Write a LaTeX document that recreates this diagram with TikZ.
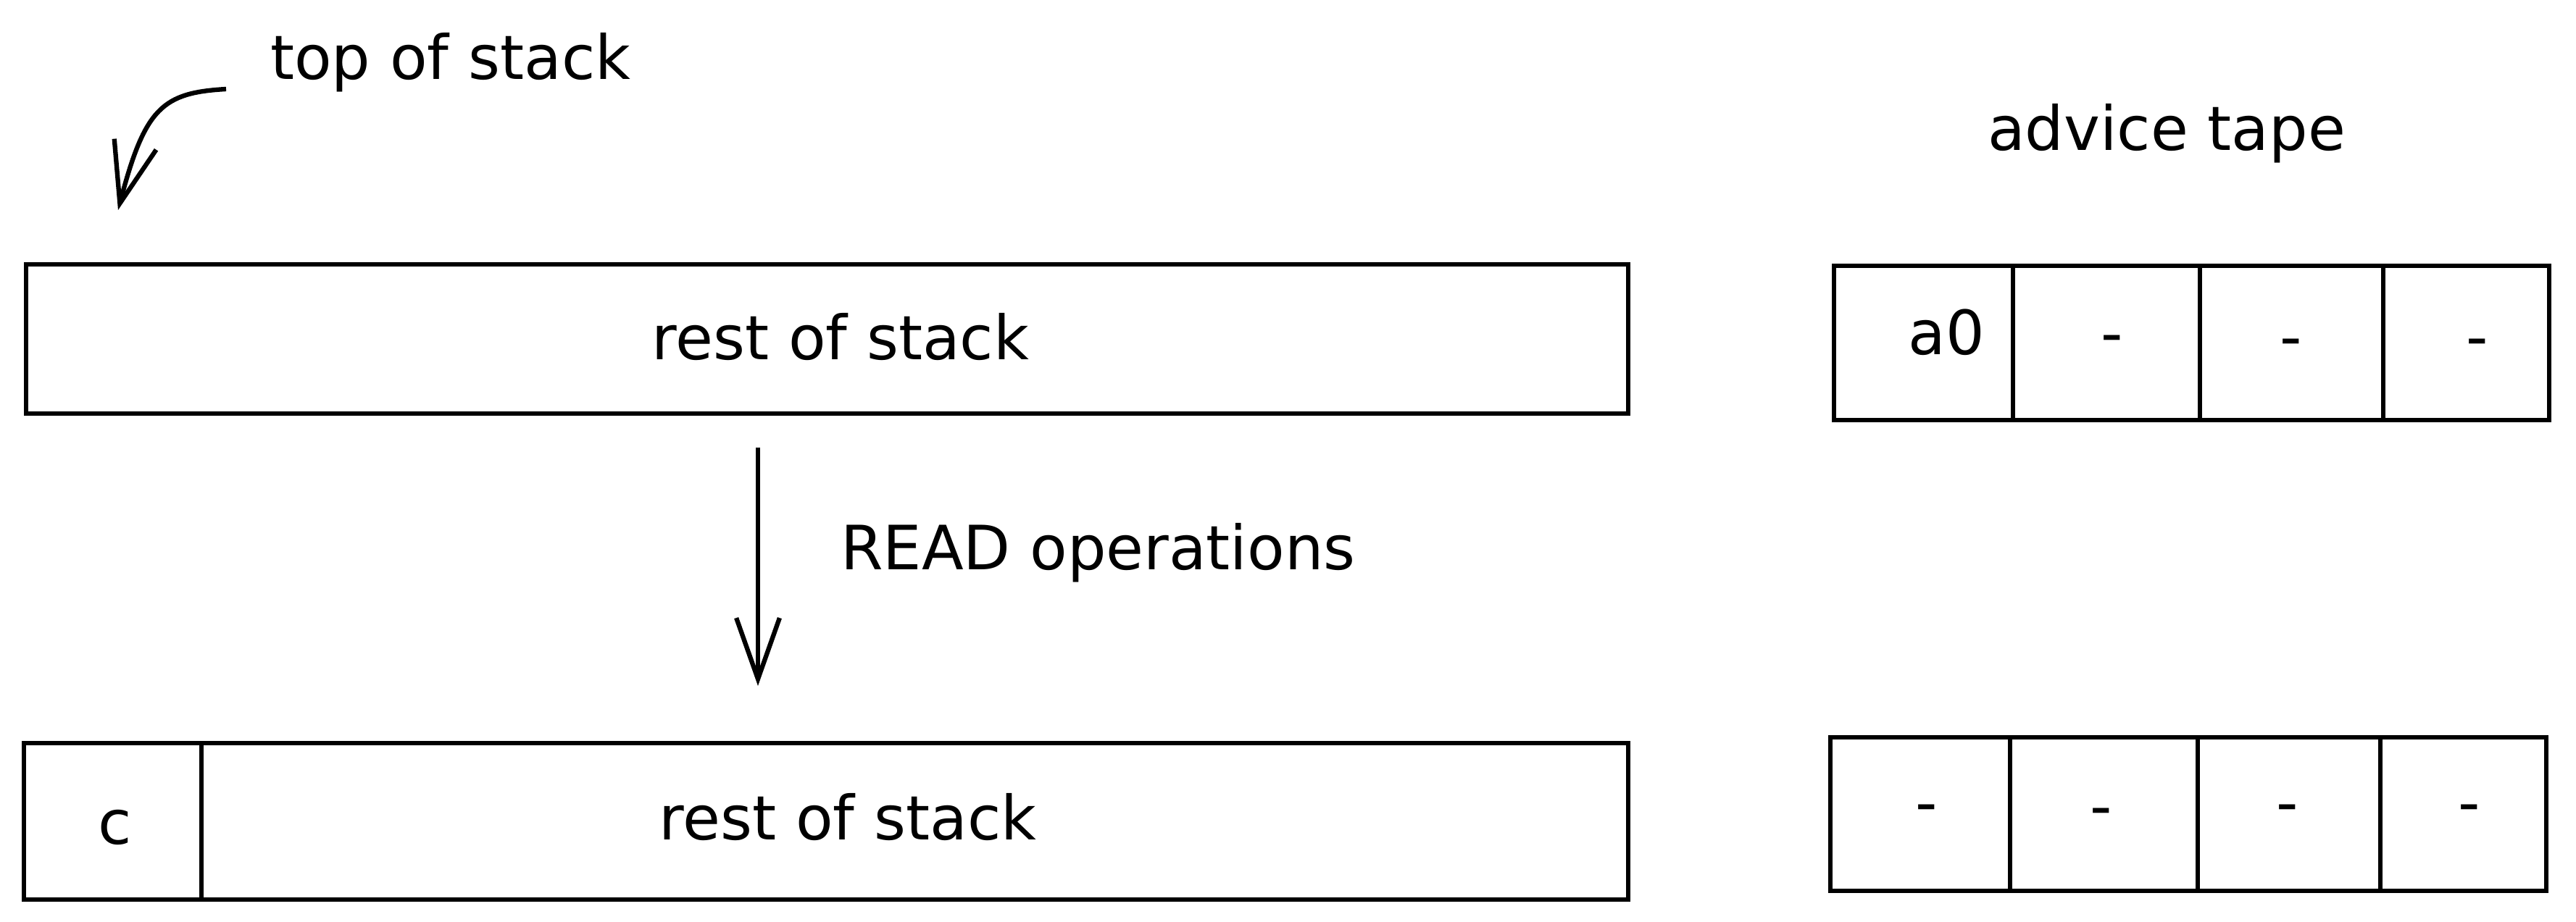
\documentclass[tikz,border=0pt]{standalone}
\usepackage{fontspec}
\newfontfamily\hand{DejaVu Sans}
\usetikzlibrary{arrows.meta}

\begin{document}
\begin{tikzpicture}
[line width=1.8pt,every node/.style={font=\hand\fontsize{24}{28}\selectfont},
box/.style={draw,inner sep=0pt},
txt/.style={anchor=base,inner sep=0pt},
barb/.style={-{Straight Barb[length=24pt,width=17pt]}}]
\useasboundingbox (0,0) rectangle (35.55,12.73);
% labels
\node (tos) [txt,anchor=base west] at (3.70,11.63) {top of stack};
\node (adv) [txt] at (29.90,10.65) {advice tape};
\node (rdop) [txt,anchor=base west] at (11.57,4.86) {READ operations};
% stack before
\node[box,minimum width=22.11cm,minimum height=2.06cm] (stk) at (11.415,8.05) {};
\node (stkt) [txt] at (11.60,7.76) {rest of stack};
% stack after
\node[box,minimum width=2.45cm,minimum height=2.16cm] (stc) at (1.555,1.39) {};
\node[box,minimum width=19.69cm,minimum height=2.16cm] (str) at (12.625,1.39) {};
\node (stct) [txt] at (1.59,1.07) {c};
\node (strt) [txt] at (11.70,1.13) {rest of stack};
% advice tape before
\node[box,minimum width=2.47cm,minimum height=2.13cm] (ta1) at (26.545,7.995) {};
\node[box,minimum width=2.58cm,minimum height=2.13cm] (ta2) at (29.07,7.995) {};
\node[box,minimum width=2.53cm,minimum height=2.13cm] (ta3) at (31.625,7.995) {};
\node[box,minimum width=2.29cm,minimum height=2.13cm] (ta4) at (34.035,7.995) {};
\node (ta1t) [txt] at (26.86,7.83) {a0};
\node (ta2t) [txt] at (29.15,7.83) {-};
\node (ta3t) [txt] at (31.62,7.78) {-};
\node (ta4t) [txt] at (34.19,7.78) {-};
% advice tape after
\node[box,minimum width=2.48cm,minimum height=2.12cm] (tb1) at (26.50,1.49) {};
\node[box,minimum width=2.59cm,minimum height=2.12cm] (tb2) at (29.035,1.49) {};
\node[box,minimum width=2.52cm,minimum height=2.12cm] (tb3) at (31.59,1.49) {};
\node[box,minimum width=2.29cm,minimum height=2.12cm] (tb4) at (33.995,1.49) {};
\node (tb1t) [txt] at (26.59,1.35) {-};
\node (tb2t) [txt] at (29.00,1.30) {-};
\node (tb3t) [txt] at (31.57,1.35) {-};
\node (tb4t) [txt] at (34.08,1.35) {-};
% arrows
\coordinate (tosa) at (3.12,11.50);
\coordinate (tosb) at (1.63,9.83);
\coordinate (rda) at (10.46,6.55);
\coordinate (rdb) at (10.46,3.26);
\draw[barb] (tosa) .. controls (2.25,11.45) and (2.0,11.25) .. (tosb);
\draw[barb] (rda) -- (rdb);
\end{tikzpicture}
\end{document}
